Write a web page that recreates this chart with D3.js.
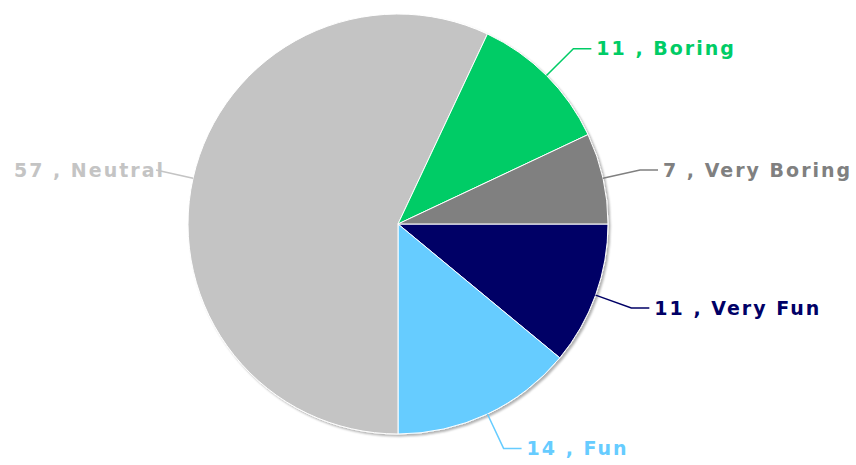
<!DOCTYPE html>
<html>
<head>
<meta charset="utf-8">
<script src="https://cdn.jsdelivr.net/npm/d3@7"></script>
<style>
  body { margin: 0; background: #fff; }
  svg text { font-family: "DejaVu Sans", Verdana, sans-serif; font-weight: bold; }
</style>
</head>
<body>
<svg id="chart" width="856" height="465"></svg>
<script>
// slices, clockwise from 3 o'clock
const categories = ["Very Fun", "Fun", "Neutral", "Boring", "Very Boring"];
const values = [11, 14, 57, 11, 7];
const colors = ["#000066", "#66ccff", "#c4c4c4", "#00cc66", "#808080"];

const cx = 398, cy = 224, r = 210;

const svg = d3.select("#chart");

// drop shadow
const defs = svg.append("defs");
const f = defs.append("filter").attr("id", "shadow")
  .attr("x", "-10%").attr("y", "-10%").attr("width", "120%").attr("height", "120%");
f.append("feDropShadow")
  .attr("dx", 2).attr("dy", 2).attr("stdDeviation", 1.2)
  .attr("flood-color", "#000").attr("flood-opacity", 0.3);

const data = categories.map((c, i) => ({ name: c, value: values[i], color: colors[i] }));

const pie = d3.pie()
  .value(d => d.value)
  .sort(null)
  .startAngle(Math.PI / 2)
  .endAngle(Math.PI / 2 + 2 * Math.PI);

const arc = d3.arc().innerRadius(0).outerRadius(r);

const g = svg.append("g").attr("transform", `translate(${cx},${cy})`);

const arcs = pie(data);

g.append("g").attr("filter", "url(#shadow)")
  .selectAll("path")
  .data(arcs)
  .join("path")
  .attr("d", arc)
  .attr("fill", d => d.data.color)
  .attr("stroke", "#fff")
  .attr("stroke-width", 1)
  .attr("stroke-linejoin", "round");

// labels with elbow connectors
const elbowR = r + 38;
arcs.forEach(d => {
  const a = (d.startAngle + d.endAngle) / 2 - Math.PI / 2;
  const x0 = r * Math.cos(a), y0 = r * Math.sin(a);
  const x1 = elbowR * Math.cos(a), y1 = elbowR * Math.sin(a);
  const right = Math.cos(a) >= 0;
  const x2 = right ? x1 + 18 : x1;
  g.append("polyline")
    .attr("points", [[x0, y0], [x1, y1], [x2, y1]].map(p => p.join(",")).join(" "))
    .attr("fill", "none")
    .attr("stroke", d.data.color)
    .attr("stroke-width", 1.5);
  g.append("text")
    .attr("x", right ? x2 + 5 : x2 + 9)
    .attr("y", y1)
    .attr("dy", "0.35em")
    .attr("text-anchor", right ? "start" : "end")
    .attr("fill", d.data.color)
    .attr("font-size", 19)
    .attr("letter-spacing", 2)
    .text(`${d.data.value} , ${d.data.name}`);
});
</script>
</body>
</html>
